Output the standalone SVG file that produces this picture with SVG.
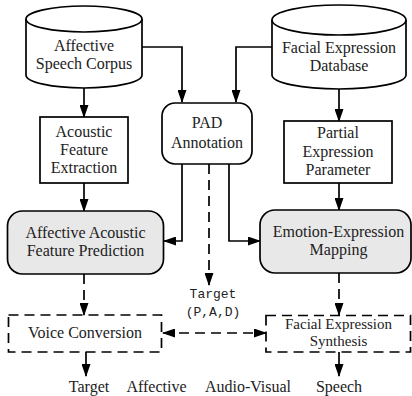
<svg xmlns="http://www.w3.org/2000/svg" width="412" height="396" viewBox="0 0 412 396">
<defs>
<marker id="ah" viewBox="0 0 13 9" refX="12" refY="4.5" markerWidth="13" markerHeight="9" markerUnits="userSpaceOnUse" orient="auto-start-reverse">
<path d="M0,0 L13,4.5 L0,9 Z" fill="#000"/>
</marker>
<style>
.shape{fill:#fff;stroke:#000;stroke-width:1.7}
.gray{fill:#e8e8e8;stroke:#000;stroke-width:1.7}
.dbox{fill:none;stroke:#000;stroke-width:1.7;stroke-dasharray:10 6}
.t{font-family:"Liberation Serif","Times New Roman",serif;font-size:16px;fill:#222;text-anchor:middle}
.m{font-family:"Liberation Mono","Courier New",monospace;font-size:13px;fill:#222;text-anchor:middle}
.c{fill:none;stroke:#000;stroke-width:1.7}
.d{fill:none;stroke:#000;stroke-width:1.7;stroke-dasharray:10 6}
</style>
</defs>
<rect width="412" height="396" fill="#fff"/>
<g id="connectors">
<path class="c" d="M142,47 H182 V102" marker-end="url(#ah)"/>
<path class="c" d="M272,47 H236 V102" marker-end="url(#ah)"/>
<path class="c" d="M84,88 V117" marker-end="url(#ah)"/>
<path class="c" d="M339,89 V121" marker-end="url(#ah)"/>
<path class="c" d="M84,183 V211" marker-end="url(#ah)"/>
<path class="c" d="M339,183 V210" marker-end="url(#ah)"/>
<path class="c" d="M182,164 V241 H164" marker-end="url(#ah)"/>
<path class="c" d="M229,164 V241 H260" marker-end="url(#ah)"/>
<path class="d" d="M209,164 V285" marker-end="url(#ah)"/>
<path class="d" d="M84,274 V315" marker-end="url(#ah)"/>
<path class="d" d="M339,273 V315" marker-end="url(#ah)"/>
<path class="d" d="M163,333 H266" marker-start="url(#ah)" marker-end="url(#ah)"/>
<path class="c" d="M86,352 V376" marker-end="url(#ah)"/>
<path class="c" d="M339,352 V376" marker-end="url(#ah)"/>
</g>
<g id="speech-corpus">
<path class="shape" d="M26,19 L26,75 A58,13 0 0 0 142,75 L142,19"/>
<ellipse class="shape" cx="84" cy="19" rx="58" ry="13"/>
<text class="t" x="84" y="51">Affective</text>
<text class="t" x="84" y="69">Speech Corpus</text>
</g>
<g id="facial-db">
<path class="shape" d="M272,20 L272,75 A67,14 0 0 0 406,75 L406,20"/>
<ellipse class="shape" cx="339" cy="20" rx="67" ry="15"/>
<text class="t" x="339" y="53">Facial Expression</text>
<text class="t" x="339" y="71">Database</text>
</g>
<g id="pad-annotation">
<rect class="shape" x="162" y="103" width="90" height="61" rx="13"/>
<text class="t" x="207" y="128">PAD</text>
<text class="t" x="207" y="148">Annotation</text>
</g>
<g id="acoustic-extraction">
<rect class="shape" x="40" y="117" width="88" height="66"/>
<text class="t" x="84" y="137">Acoustic</text>
<text class="t" x="84" y="155">Feature</text>
<text class="t" x="84" y="173">Extraction</text>
</g>
<g id="partial-expression">
<rect class="shape" x="284" y="121" width="108" height="62"/>
<text class="t" x="338" y="138">Partial</text>
<text class="t" x="338" y="157">Expression</text>
<text class="t" x="338" y="175">Parameter</text>
</g>
<g id="acoustic-prediction">
<rect class="gray" x="7.5" y="211" width="156" height="63" rx="15"/>
<text class="t" x="85.5" y="238">Affective Acoustic</text>
<text class="t" x="85.5" y="256">Feature Prediction</text>
</g>
<g id="emotion-mapping">
<rect class="gray" x="260" y="210" width="151" height="63" rx="15"/>
<text class="t" x="338.5" y="237">Emotion-Expression</text>
<text class="t" x="338.5" y="255">Mapping</text>
</g>
<g id="target-pad">
<text class="m" x="213" y="298">Target</text>
<text class="m" x="213" y="316">(P,A,D)</text>
</g>
<g id="voice-conversion">
<rect class="dbox" x="8.5" y="315" width="153" height="37"/>
<text class="t" x="85" y="338">Voice Conversion</text>
</g>
<g id="facial-synthesis">
<rect class="dbox" x="266" y="315.5" width="144.5" height="36.5"/>
<text class="t" x="338.5" y="329" style="font-size:15px">Facial Expression</text>
<text class="t" x="338.5" y="345.5" style="font-size:15px">Synthesis</text>
</g>
<g id="output-label">
<text class="t" x="89" y="391.5">Target</text>
<text class="t" x="156.5" y="391.5">Affective</text>
<text class="t" x="248" y="391.5">Audio-Visual</text>
<text class="t" x="339" y="391.5">Speech</text>
</g>
</svg>
